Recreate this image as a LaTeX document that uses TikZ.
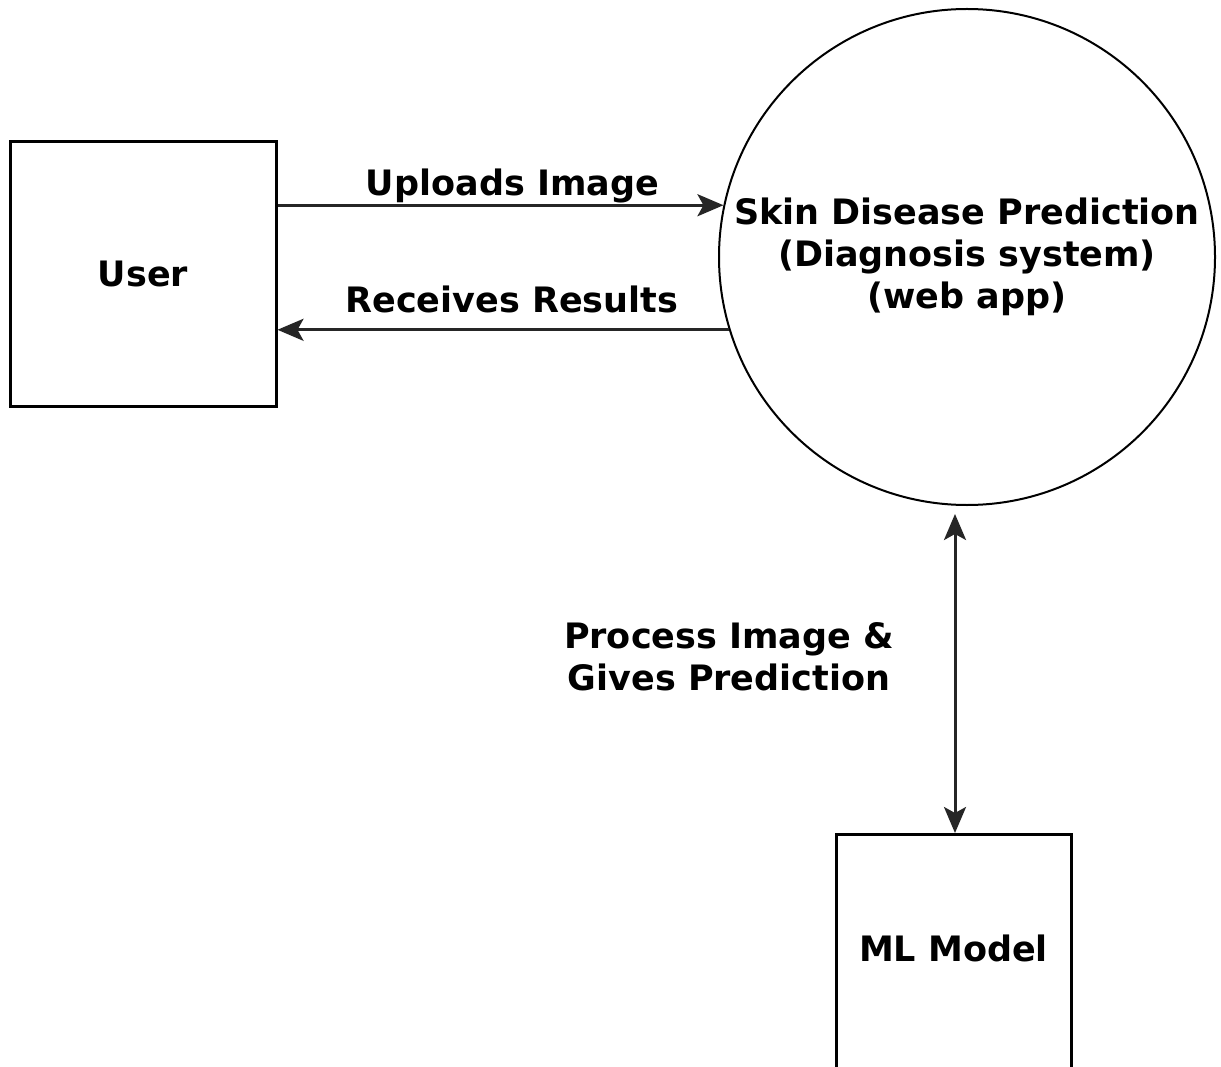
\documentclass[tikz,border=0pt]{standalone}
\usepackage{fontspec}
\setmainfont{DejaVu Sans}
\usetikzlibrary{arrows.meta}
\begin{document}
\begin{tikzpicture}[x=1pt,y=-1pt,
  every node/.style={font=\fontsize{35}{42}\selectfont\bfseries},
  entity/.style={draw=black, line width=3pt, rectangle, inner sep=0pt},
  process/.style={draw=black, line width=2pt, circle, inner sep=0pt, minimum size=496pt, align=center},
  flow/.style={draw=black!85, line width=3pt, -{Stealth[length=26pt,width=22pt,inset=6pt]}},
  biflow/.style={draw=black!85, line width=3pt, {Stealth[length=26pt,width=22pt,inset=6pt]}-{Stealth[length=26pt,width=22pt,inset=6pt]}},
  flowlabel/.style={anchor=base}]
\useasboundingbox (0,0) rectangle (1221,1067);
\clip (0,0) rectangle (1221,1067);
\node[entity, minimum width=266pt, minimum height=265pt] (user) at (143,274) {User};
\node[process] (sys) at (967,257) {Skin Disease Prediction\\(Diagnosis system)\\(web app)};
\node[entity, anchor=north, minimum width=235pt, text height=127pt, text depth=130pt] (ml) at (953.5,833) {ML Model};
\draw[flow] (sys.168.6 -| user.east) -- (sys.168.6)
  node[flowlabel, midway, xshift=12pt, yshift=10pt] {Uploads Image};
\draw[flow] (sys.197.8) -- (sys.197.8 -| user.east)
  node[flowlabel, midway, xshift=8.5pt, yshift=17pt] {Receives Results};
\draw[biflow, shorten >=8pt] ([xshift=1.5pt]ml.north) -- ([xshift=1.5pt]ml.north |- sys.south)
  node[midway, align=center, xshift=-226pt, yshift=13pt] {Process Image \&\\Gives Prediction};
\end{tikzpicture}
\end{document}
